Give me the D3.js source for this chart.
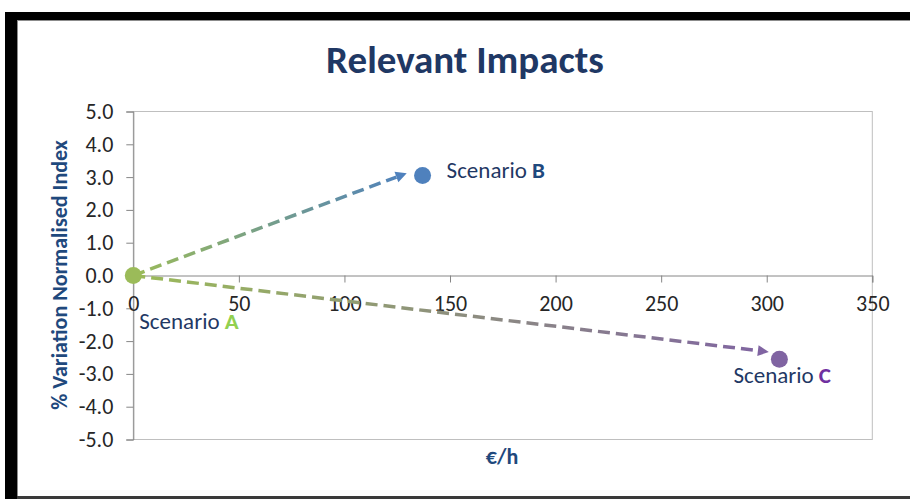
<!DOCTYPE html>
<html>
<head>
<meta charset="utf-8">
<script src="https://cdn.jsdelivr.net/npm/d3@7"></script>
<style>
  body { margin: 0; background: #fff; }
  svg { display: block; }
</style>
</head>
<body>
<svg id="chart" width="910" height="499"></svg>
<script>
// Scenario data: hourly cost (€/h) against % variation of the normalised index
const scenarioNames = ["A", "B", "C"];
const costPerHour = [0, 137, 306];
const variationIndex = [0, 3.05, -2.55];

// Where each arrow from scenario A stops (its tip), in data units
const arrowTipCost = [null, 129.5, 301];
const arrowTipIndex = [null, 3.12, -2.33];

const xTickValues = [0, 50, 100, 150, 200, 250, 300, 350];
const yTickValues = [5, 4, 3, 2, 1, 0, -1, -2, -3, -4, -5];

const chartTitle = "Relevant Impacts";
const xAxisTitle = "€/h";
const yAxisTitle = "% Variation Normalised Index";
const labelPrefix = "Scenario ";

// ---- styling / layout ----
const FONT = "Carlito, Calibri, 'Open Sans', sans-serif";
const NAVY = "#1F3864";
const AXIS_NAVY = "#1F497D";
const markerColors = ["#9BBB59", "#4F81BD", "#8064A2"];
const letterColors = ["#92D050", "#1F497D", "#7030A0"];
const labelOffsets = [[6, 53], [24, 3], [-46, 24]];

const plot = { left: 133.3, right: 872.3, top: 111.5, bottom: 439.5 };

const svg = d3.select("#chart");

// Frame around the chart
svg.append("rect").attr("x", 5).attr("y", 12).attr("width", 905).attr("height", 8).attr("fill", "#000");
svg.append("rect").attr("x", 5).attr("y", 12).attr("width", 12).attr("height", 487).attr("fill", "#000");
svg.append("line").attr("x1", 17).attr("x2", 910).attr("y1", 20.5).attr("y2", 20.5).attr("stroke", "#8c8c8c");
svg.append("line").attr("x1", 17.5).attr("x2", 17.5).attr("y1", 20).attr("y2", 496).attr("stroke", "#8c8c8c");
svg.append("rect").attr("x", 17).attr("y", 496).attr("width", 893).attr("height", 3).attr("fill", "#3a3a3a");

const x = d3.scaleLinear().domain([0, 350]).range([plot.left, plot.right]);
const y = d3.scaleLinear().domain([-5, 5]).range([plot.bottom, plot.top]);

// Plot area border
svg.append("rect")
  .attr("x", plot.left).attr("y", plot.top)
  .attr("width", plot.right - plot.left).attr("height", plot.bottom - plot.top)
  .attr("fill", "none").attr("stroke", "#BFBFBF").attr("stroke-width", 1);

// Y axis
const yAxis = svg.append("g")
  .attr("transform", `translate(${plot.left},0)`)
  .call(d3.axisLeft(y).tickValues(yTickValues).tickSizeOuter(0).tickSize(7).tickPadding(13));
yAxis.select(".domain").attr("stroke", "#868686");
yAxis.selectAll(".tick line").attr("stroke", "#868686");
yAxis.selectAll(".tick text")
  .attr("font-family", FONT).attr("font-size", 22).attr("fill", "#262626")
  .text(d => d.toFixed(1));

// X axis sitting on the zero line
const xAxis = svg.append("g")
  .attr("transform", `translate(0,${y(0)})`)
  .call(d3.axisBottom(x).tickValues(xTickValues).tickSizeOuter(0).tickSize(7).tickPadding(13));
xAxis.select(".domain").attr("stroke", "#868686");
xAxis.selectAll(".tick line").attr("stroke", "#868686");
xAxis.selectAll(".tick text")
  .attr("font-family", FONT).attr("font-size", 22).attr("fill", "#262626");

// Titles
svg.append("text")
  .attr("x", 465).attr("y", 73)
  .attr("text-anchor", "middle")
  .attr("font-family", FONT).attr("font-weight", "bold").attr("font-size", 39)
  .attr("fill", NAVY)
  .text(chartTitle);

svg.append("text")
  .attr("x", 502).attr("y", 464)
  .attr("text-anchor", "middle")
  .attr("font-family", FONT).attr("font-weight", "bold").attr("font-size", 22)
  .attr("fill", AXIS_NAVY)
  .text(xAxisTitle);

svg.append("text")
  .attr("transform", `translate(67,275) rotate(-90)`)
  .attr("text-anchor", "middle")
  .attr("font-family", FONT).attr("font-weight", "bold").attr("font-size", 22)
  .attr("fill", AXIS_NAVY)
  .text(yAxisTitle);

// Dashed arrows from scenario A to the other scenarios, colour blending along the way
const defs = svg.append("defs");
const origin = [x(costPerHour[0]), y(variationIndex[0])];
const headLen = 11, headHalf = 5.5;

scenarioNames.forEach((name, i) => {
  if (arrowTipCost[i] == null) return;
  const tip = [x(arrowTipCost[i]), y(arrowTipIndex[i])];
  const dx = tip[0] - origin[0], dy = tip[1] - origin[1];
  const len = Math.hypot(dx, dy);
  const ux = dx / len, uy = dy / len;
  const base = [tip[0] - ux * headLen, tip[1] - uy * headLen];

  const grad = defs.append("linearGradient")
    .attr("id", "grad" + name)
    .attr("gradientUnits", "userSpaceOnUse")
    .attr("x1", origin[0]).attr("y1", origin[1])
    .attr("x2", tip[0]).attr("y2", tip[1]);
  grad.append("stop").attr("offset", "0%").attr("stop-color", markerColors[0]);
  grad.append("stop").attr("offset", "100%").attr("stop-color", markerColors[i]);

  svg.append("line")
    .attr("x1", origin[0]).attr("y1", origin[1])
    .attr("x2", base[0]).attr("y2", base[1])
    .attr("stroke", `url(#grad${name})`)
    .attr("stroke-width", 3.5)
    .attr("stroke-dasharray", "12,6");

  const head = d3.path();
  head.moveTo(tip[0], tip[1]);
  head.lineTo(base[0] - uy * headHalf, base[1] + ux * headHalf);
  head.lineTo(base[0] + uy * headHalf, base[1] - ux * headHalf);
  head.closePath();
  svg.append("path").attr("d", head.toString()).attr("fill", markerColors[i]);
});

// Scenario markers
svg.append("g").selectAll("circle")
  .data(scenarioNames)
  .join("circle")
  .attr("cx", (d, i) => x(costPerHour[i]))
  .attr("cy", (d, i) => y(variationIndex[i]))
  .attr("r", 8.5)
  .attr("fill", (d, i) => markerColors[i]);

// Scenario labels
const labels = svg.append("g").selectAll("text")
  .data(scenarioNames)
  .join("text")
  .attr("x", (d, i) => x(costPerHour[i]) + labelOffsets[i][0])
  .attr("y", (d, i) => y(variationIndex[i]) + labelOffsets[i][1])
  .attr("font-family", FONT).attr("font-size", 23)
  .attr("fill", NAVY);
labels.append("tspan").text(labelPrefix);
labels.append("tspan")
  .attr("font-weight", "bold")
  .attr("fill", (d, i) => letterColors[i])
  .text(d => d);
</script>
</body>
</html>
